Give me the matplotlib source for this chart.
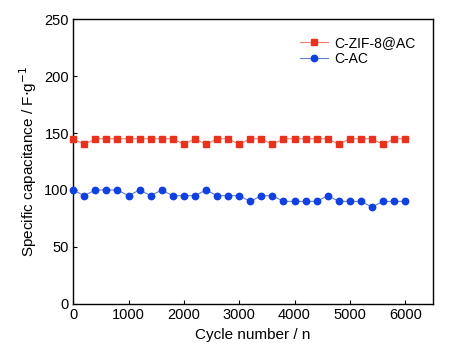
import matplotlib
matplotlib.use("Agg")
import matplotlib.pyplot as plt

plt.rcParams['font.family'] = ['Liberation Sans', 'DejaVu Sans']

cycles = list(range(0, 6001, 200))
zif_ac = [145, 140, 145, 145, 145, 145, 145, 145, 145, 145, 140, 145, 140, 145, 145, 140,
          145, 145, 140, 145, 145, 145, 145, 145, 140, 145, 145, 145, 140, 145, 145]
c_ac = [100, 95, 100, 100, 100, 95, 100, 95, 100, 95, 95, 95, 100, 95, 95, 95,
        90, 95, 95, 90, 90, 90, 90, 95, 90, 90, 90, 85, 90, 90, 90]

fig = plt.figure(figsize=(4.63, 3.55), dpi=100)
ax = fig.add_axes([0.158, 0.144, 0.777, 0.802])

ax.plot(cycles, zif_ac, color='#f08070', lw=0.8, ls='-', marker='s', ms=4.2,
        mfc='#e8321e', mec='#e8321e', label='C-ZIF-8@AC', clip_on=False, zorder=3)
ax.plot(cycles, c_ac, color='#6080d0', lw=0.8, ls='-', marker='o', ms=4.6,
        mfc='#1040e0', mec='#1040e0', label='C-AC', clip_on=False, zorder=3)

ax.set_xlim(0, 6500)
ax.set_ylim(0, 250)
ax.set_xticks([0, 1000, 2000, 3000, 4000, 5000, 6000])
ax.set_yticks([0, 50, 100, 150, 200, 250])
ax.tick_params(direction='in', length=3, width=0.8, labelsize=10.5, pad=3)
for s in ax.spines.values():
    s.set_linewidth(1.0)

ax.set_xlabel('Cycle number / n', fontsize=11)
ax.set_ylabel('Specific capacitance / F$\\cdot$g$^{-1}$', fontsize=11)

ax.legend(loc='upper right', frameon=False, fontsize=10, handlelength=2.0,
          handletextpad=0.4, labelspacing=0.15, bbox_to_anchor=(0.985, 0.985))

fig.savefig('out.png', dpi=100)
